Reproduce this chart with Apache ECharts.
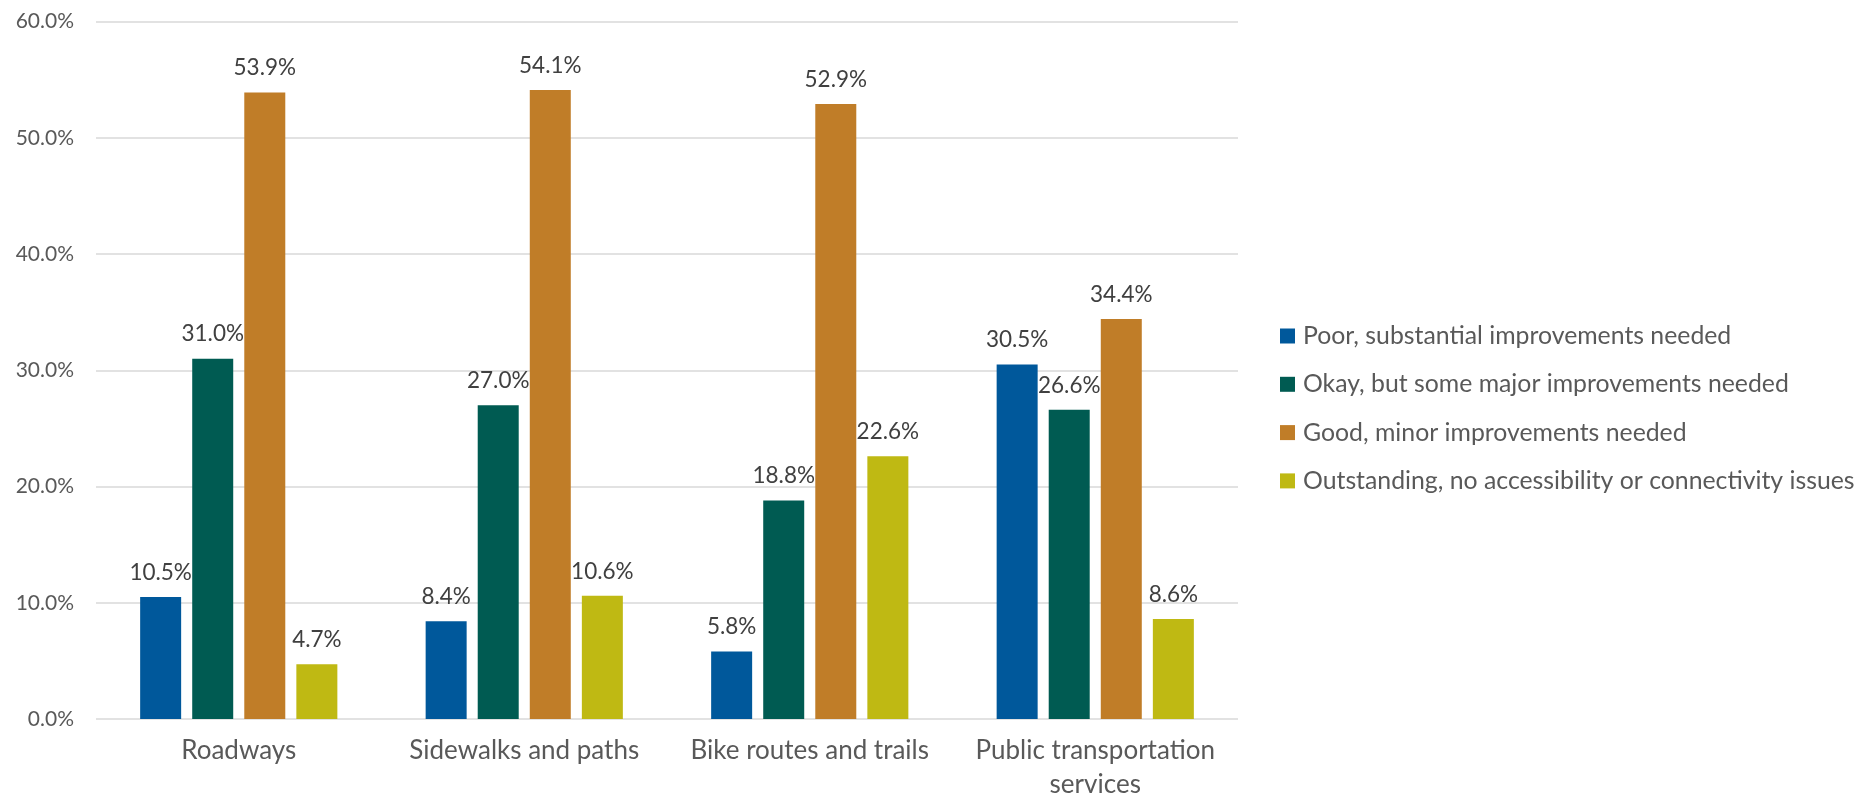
<!DOCTYPE html>
<html>
<head>
<meta charset="utf-8">
<script src="https://cdn.jsdelivr.net/npm/echarts@6/dist/echarts.min.js"></script>
<style>
  html, body { margin: 0; padding: 0; background: #fff; }
  #chart { width: 1871px; height: 802px; }
</style>
</head>
<body>
<div id="chart"></div>
<script>
// categories on the x axis
const categories = ['Roadways', 'Sidewalks and paths', 'Bike routes and trails', 'Public transportation\nservices']
// series names (legend)
const seriesNames = [
  'Poor, substantial improvements needed',
  'Okay, but some major improvements needed',
  'Good, minor improvements needed',
  'Outstanding, no accessibility or connectivity issues'
]
// values in percent
const poor = [10.5, 8.4, 5.8, 30.5]
const okay = [31.0, 27.0, 18.8, 26.6]
const good = [53.9, 54.1, 52.9, 34.4]
const outstanding = [4.7, 10.6, 22.6, 8.6]
const colors = ['#00589b', '#005b52', '#c07d28', '#bfb913']

const chart = echarts.init(document.getElementById('chart'))
const allValues = [poor, okay, good, outstanding]

const seriesArr = allValues.map((vals, i) => {
  return {
    name: seriesNames[i],
    type: 'bar',
    data: vals,
    barWidth: 41,
    barGap: '27%',
    itemStyle: { color: colors[i] },
    label: {
      show: true,
      position: 'top',
      distance: 13,
      color: '#404040',
      fontFamily: 'Lato',
      fontSize: 22.5,
      formatter: (p) => p.value.toFixed(1) + '%'
    }
  }
})

chart.setOption({
  animation: false,
  grid: {
    left: 96,
    right: 633,
    top: 21.5,
    bottom: 82.5
  },
  legend: {
    orient: 'vertical',
    left: 1280,
    top: 323.5,
    padding: 0,
    icon: 'rect',
    itemWidth: 15,
    itemHeight: 15,
    itemGap: 23.3,
    textStyle: {
      color: '#595959',
      fontFamily: 'Lato',
      fontSize: 24.8,
      lineHeight: 25,
      padding: [0, 0, 0, 3]
    },
    data: seriesNames
  },
  xAxis: {
    type: 'category',
    data: categories,
    axisLine: { show: false },
    axisTick: { show: false },
    axisLabel: {
      interval: 0,
      color: '#595959',
      fontFamily: 'Lato',
      fontSize: 26,
      margin: 15,
      lineHeight: 34
    }
  },
  yAxis: {
    type: 'value',
    min: 0,
    max: 60,
    interval: 10,
    axisLine: { show: false },
    axisTick: { show: false },
    axisLabel: {
      color: '#595959',
      fontFamily: 'Lato',
      fontSize: 21,
      margin: 22,
      formatter: (v) => v.toFixed(1) + '%'
    },
    splitLine: { lineStyle: { color: '#d9d9d9', width: 1.5 } }
  },
  series: seriesArr
})
</script>
</body>
</html>
